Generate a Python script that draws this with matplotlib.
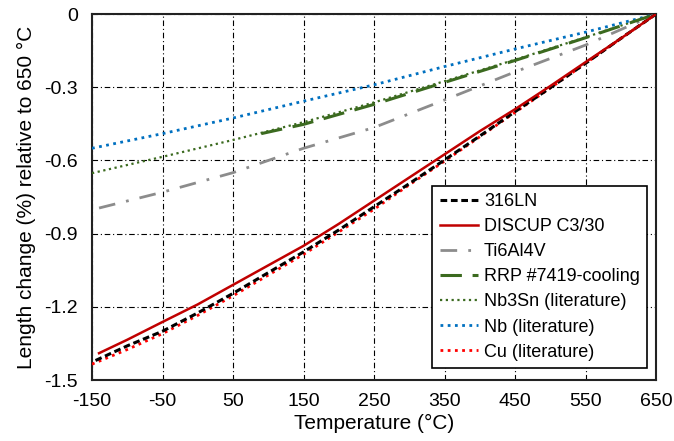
import numpy as np
import matplotlib
matplotlib.use("Agg")
import matplotlib.pyplot as plt

plt.rcParams['font.family'] = ['Liberation Sans', 'DejaVu Sans']
plt.rcParams['axes.unicode_minus'] = False

# 316LN
t_316 = [-145, -100, -50, 0, 50, 100, 150, 200, 250, 300, 350, 400, 450, 500, 550, 600, 650]
dl_316 = [-1.42, -1.36, -1.30, -1.225, -1.145, -1.06, -0.975, -0.885, -0.79, -0.695,
          -0.598, -0.50, -0.40, -0.302, -0.202, -0.10, 0.0]
# DISCUP C3/30
t_discup = [-140, -100, -50, 0, 50, 100, 150, 200, 250, 300, 350, 400, 450, 500, 550, 600, 650]
dl_discup = [-1.39, -1.335, -1.262, -1.19, -1.11, -1.03, -0.95, -0.86, -0.765, -0.67,
             -0.575, -0.48, -0.39, -0.295, -0.197, -0.10, 0.0]
# Ti6Al4V
t_ti = [-140, -50, 50, 150, 250, 350, 450, 550, 650]
dl_ti = [-0.795, -0.73, -0.65, -0.55, -0.465, -0.352, -0.237, -0.127, 0.0]
# RRP #7419-cooling
t_rrp = [90, 150, 250, 350, 450, 550, 650]
dl_rrp = [-0.49, -0.452, -0.37, -0.28, -0.19, -0.097, 0.0]
# Nb3Sn (literature)
t_nb3sn = [-150, -50, 50, 150, 250, 350, 450, 550, 650]
dl_nb3sn = [-0.652, -0.585, -0.516, -0.443, -0.362, -0.275, -0.187, -0.095, 0.0]
# Nb (literature)
t_nb = [-150, -50, 50, 150, 250, 350, 450, 550, 650]
dl_nb = [-0.55, -0.49, -0.426, -0.357, -0.29, -0.215, -0.143, -0.074, 0.0]
# Cu (literature)
t_cu = [-150, -100, -50, 0, 50, 100, 150, 200, 250, 300, 350, 400, 450, 500, 550, 600, 650]
dl_cu = [-1.435, -1.375, -1.31, -1.235, -1.155, -1.07, -0.985, -0.893, -0.80, -0.70,
         -0.603, -0.503, -0.403, -0.303, -0.202, -0.10, 0.0]

x_ticks = [-150, -50, 50, 150, 250, 350, 450, 550, 650]
y_ticks = [0, -0.3, -0.6, -0.9, -1.2, -1.5]
y_labels = ["0", "-0.3", "-0.6", "-0.9", "-1.2", "-1.5"]

fig = plt.figure(figsize=(6.74, 4.41), dpi=100)
ax = fig.add_axes([0.1365, 0.1383, 0.8368, 0.8297])

ax.plot(t_316, dl_316, color='black', lw=2.2, ls=(0, (2.2, 1.2)), label='316LN', zorder=4)
ax.plot(t_discup, dl_discup, color='#c00000', lw=1.8, ls='-', label='DISCUP C3/30', zorder=5)
ax.plot(t_ti, dl_ti, color='#8c8c8c', lw=2, ls=(0, (6, 4, 1, 4)), label='Ti6Al4V', zorder=3)
ax.plot(t_rrp, dl_rrp, color='#3b6a1f', lw=2.2, ls=(0, (7, 3.5)), label='RRP #7419-cooling', zorder=4)
ax.plot(t_nb3sn, dl_nb3sn, color='#3b6a1f', lw=1.6, ls=(0, (1, 1.6)), label='Nb3Sn (literature)', zorder=3)
ax.plot(t_nb, dl_nb, color='#0070c0', lw=2, ls=(0, (1, 1.6)), label='Nb (literature)', zorder=3)
ax.plot(t_cu, dl_cu, color='#ff0000', lw=2, ls=(0, (1, 1.6)), label='Cu (literature)', zorder=3)

ax.set_xlim(-150, 650)
ax.set_ylim(-1.5, 0)
ax.set_xticks(x_ticks)
ax.set_xticklabels([str(v) for v in x_ticks])
ax.set_yticks(y_ticks)
ax.set_yticklabels(y_labels)
ax.tick_params(axis='x', labelsize=14, length=0, pad=9)
ax.tick_params(axis='y', labelsize=14, length=0, pad=10)
ax.grid(True, color='black', lw=0.8, ls=(0, (5, 2.5, 1, 2.5)))
ax.set_axisbelow(True)
for s in ax.spines.values():
    s.set_linewidth(1.5)
    s.set_color('#222222')

ax.set_xlabel('Temperature (°C)', fontsize=15, labelpad=3)
ax.set_ylabel('Length change (%) relative to 650 °C', fontsize=15, labelpad=6)

leg = ax.legend(loc='lower right', bbox_to_anchor=(0.984, 0.033), borderaxespad=0,
                fontsize=13, frameon=True, fancybox=False,
                edgecolor='black', framealpha=1, handlelength=2.1,
                labelspacing=0.45, handletextpad=0.35, borderpad=0.4)
leg.get_frame().set_linewidth(1.2)

fig.savefig('out.png', dpi=100)
